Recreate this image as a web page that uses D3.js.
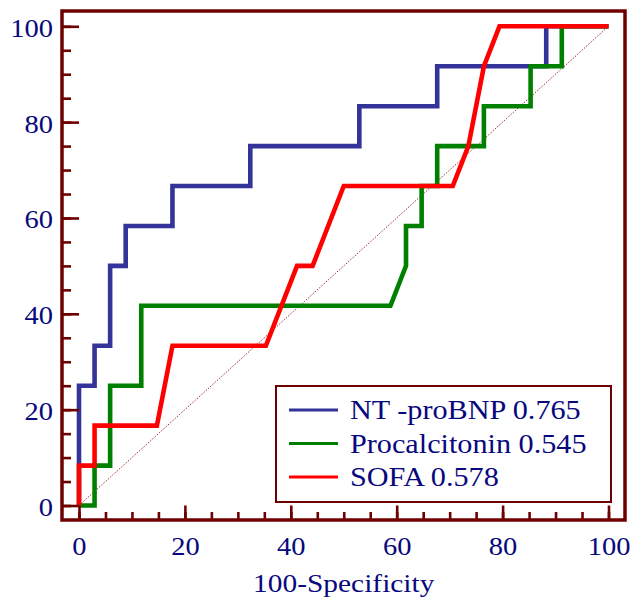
<!DOCTYPE html>
<html>
<head>
<meta charset="utf-8">
<script src="https://cdn.jsdelivr.net/npm/d3@7"></script>
<style>
  body { margin: 0; background: #fff; }
  svg { display: block; }
  text { font-family: "Liberation Serif", "Times New Roman", serif; fill: #08087e; }
</style>
</head>
<body>
<svg id="chart" width="633" height="604"></svg>
<script>
// ROC curves: [100-Specificity, Sensitivity]
var ntProBNP = [[0,0],[0,25],[2.94,25],[2.94,33.33],[5.88,33.33],[5.88,50],[8.82,50],[8.82,58.33],
  [17.65,58.33],[17.65,66.67],[32.35,66.67],[32.35,75],[52.94,75],[52.94,83.33],[67.65,83.33],
  [67.65,91.67],[88.24,91.67],[88.24,100],[100,100]];
var procalcitonin = [[0,0],[2.94,0],[2.94,8.33],[5.88,8.33],[5.88,25],[11.76,25],[11.76,41.67],
  [58.82,41.67],[61.76,50],[61.76,58.33],[64.71,58.33],[64.71,66.67],[67.65,66.67],[67.65,75],
  [76.47,75],[76.47,83.33],[85.29,83.33],[85.29,91.67],[91.18,91.67],[91.18,100],[100,100]];
var sofa = [[0,0],[0,8.33],[2.94,8.33],[2.94,16.67],[14.71,16.67],[17.65,33.33],[35.29,33.33],
  [41.18,50],[44.12,50],[50,66.67],[70.59,66.67],[73.53,75],[76.47,91.67],[79.41,100],[100,100]];

var seriesNames = ["NT -proBNP 0.765", "Procalcitonin 0.545", "SOFA 0.578"];
var seriesColors = ["#333399", "#008000", "#ff0000"];
var majorTicks = [0, 20, 40, 60, 80, 100];
var minorTicks = d3.range(0, 101, 5);

var svg = d3.select("#chart");
var frameColor = "#6e0000";
var stretch = 1.14;

var x = d3.scaleLinear().domain([0, 100]).range([79, 608.5]);
var y = d3.scaleLinear().domain([0, 100]).range([505.5, 26.3]);

// diagonal reference
svg.append("line")
  .attr("x1", x(0)).attr("y1", y(0))
  .attr("x2", x(100)).attr("y2", y(100))
  .attr("stroke", "#a03030")
  .attr("stroke-width", 1)
  .attr("stroke-dasharray", "1.5,1.5");

// curves
var line = d3.line()
  .x(function(d) { return x(d[0]); })
  .y(function(d) { return y(d[1]); });

[ntProBNP, procalcitonin, sofa].forEach(function(s, i) {
  svg.append("path")
    .datum(s)
    .attr("d", line)
    .attr("fill", "none")
    .attr("stroke", seriesColors[i])
    .attr("stroke-width", 4.6)
    .attr("stroke-linejoin", "miter")
    .attr("stroke-miterlimit", 3);
});

// frame
svg.append("rect")
  .attr("x", 62).attr("y", 11)
  .attr("width", 563).attr("height", 509)
  .attr("fill", "none")
  .attr("stroke", frameColor)
  .attr("stroke-width", 3.5);

// y axis
var yMinor = svg.append("g").attr("transform", "translate(62,0)")
  .call(d3.axisLeft(y).tickValues(minorTicks).tickSize(-9).tickFormat(""));
var yMajor = svg.append("g").attr("transform", "translate(62,0)")
  .call(d3.axisLeft(y).tickValues(majorTicks).tickSize(-17).tickPadding(0));

// x axis
var xMinor = svg.append("g").attr("transform", "translate(0,520)")
  .call(d3.axisBottom(x).tickValues(minorTicks).tickSize(-8).tickFormat(""));
var xMajor = svg.append("g").attr("transform", "translate(0,520)")
  .call(d3.axisBottom(x).tickValues(majorTicks).tickSize(-14.5).tickPadding(0));

[yMinor, yMajor, xMinor, xMajor].forEach(function(g) {
  g.select(".domain").remove();
  g.selectAll(".tick line").attr("stroke", frameColor).attr("stroke-width", 2.6);
});

yMajor.selectAll(".tick text")
  .attr("x", null).attr("dy", null)
  .attr("font-size", 25)
  .attr("text-anchor", "end")
  .attr("transform", "translate(-9,10) scale(" + stretch + ",1)");

xMajor.selectAll(".tick text")
  .attr("y", null).attr("dy", null)
  .attr("font-size", 25)
  .attr("text-anchor", "middle")
  .attr("transform", "translate(0,35) scale(" + stretch + ",1)");

// axis title
svg.append("text")
  .attr("transform", "translate(" + (x(50)) + ",592) scale(" + stretch + ",1)")
  .attr("text-anchor", "middle")
  .attr("font-size", 25.8)
  .text("100-Specificity");

// legend
var legend = svg.append("g");
legend.append("rect")
  .attr("x", 276).attr("y", 386)
  .attr("width", 335).attr("height", 116)
  .attr("fill", "#fff")
  .attr("stroke", frameColor)
  .attr("stroke-width", 2);

var rows = legend.selectAll("g.row")
  .data(seriesNames)
  .enter().append("g")
  .attr("class", "row")
  .attr("transform", function(d, i) { return "translate(0," + (410 + i * 33.5) + ")"; });

rows.append("line")
  .attr("x1", 289).attr("x2", 338)
  .attr("stroke", function(d, i) { return seriesColors[i]; })
  .attr("stroke-width", 3);

rows.append("text")
  .attr("transform", "translate(350,9) scale(" + stretch + ",1)")
  .attr("font-size", 26.5)
  .text(function(d) { return d; });
</script>
</body>
</html>
